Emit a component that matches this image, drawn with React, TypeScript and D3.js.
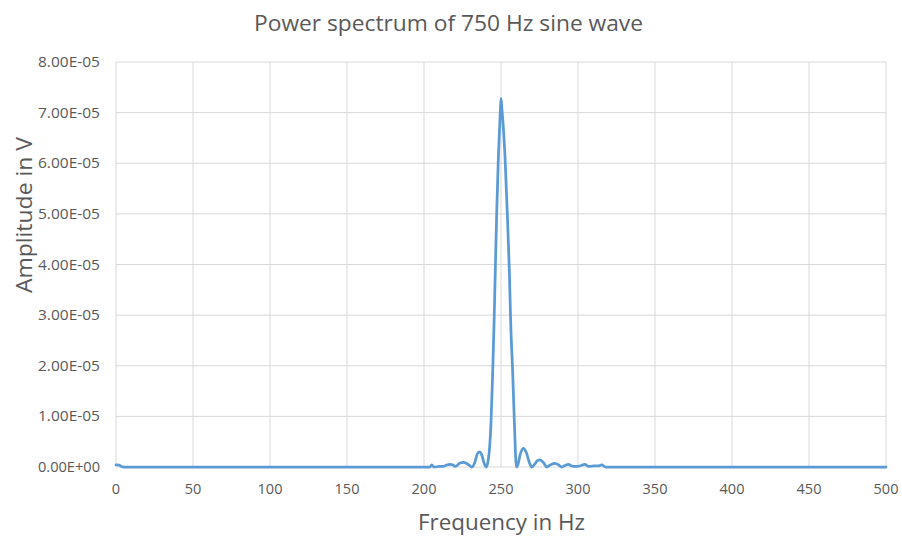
import React from "react";
import * as d3 from "d3";

// Frequency (Hz) and amplitude (V)
const freq = [
  0, 2, 3.5, 5, 200, 204, 205, 206.5, 210, 212.5, 214.7, 217, 219, 220, 221.5, 223.4, 225.5,
  227.7, 229.5, 231, 233.1, 234.5, 236, 237.5, 239, 240.3, 241.5, 243.5, 244.6, 245.5, 246.3,
  247.2, 248.3, 249.5, 250.0, 250.5, 251.3, 252.6, 254.1, 255.4, 256.3, 257.6, 258.7, 260.0,
  261, 262.5, 264.5, 266.5, 268.5, 270, 272, 273.5, 275.3, 277.5, 279.7, 282, 285, 287.5,
  289.4, 291.5, 293.7, 296, 298, 301, 304.5, 307, 310, 313, 315.4, 318, 500,
];
const amplitude = [
  0.04e-5, 0.035e-5, 0.01e-5, 0, 0, 0, 0.04e-5, 0, 0.01e-5, 0.01e-5, 0.04e-5, 0.05e-5,
  0.04e-5, 0.01e-5, 0.03e-5, 0.08e-5, 0.09e-5, 0.07e-5, 0.03e-5, 0, 0.1e-5, 0.25e-5, 0.3e-5,
  0.24e-5, 0.08e-5, 0, 0.1e-5, 0.87e-5, 1.86e-5, 2.85e-5, 3.89e-5, 5.0e-5, 6.13e-5, 7.0e-5,
  7.28e-5, 7.1e-5, 6.8e-5, 6.13e-5, 5.0e-5, 3.89e-5, 2.85e-5, 1.86e-5, 0.87e-5, 0,
  0.05e-5, 0.25e-5, 0.37e-5, 0.28e-5, 0.08e-5, 0, 0.06e-5, 0.12e-5, 0.14e-5, 0.09e-5, 0,
  0.04e-5, 0.07e-5, 0.04e-5, 0, 0.03e-5, 0.05e-5, 0.02e-5, 0.01e-5, 0.02e-5, 0.05e-5,
  0.01e-5, 0.02e-5, 0.02e-5, 0.04e-5, 0, 0,
];
const xTicks = [0, 50, 100, 150, 200, 250, 300, 350, 400, 450, 500];
const yTicks = [0, 1e-5, 2e-5, 3e-5, 4e-5, 5e-5, 6e-5, 7e-5, 8e-5];

const title = "Power spectrum of 750 Hz sine wave";
const xTitle = "Frequency in Hz";
const yTitle = "Amplitude in V";

const W = 902;
const H = 538;
const FONT = "'Open Sans', sans-serif";
const TEXT = "#595959";

function fmtY(v: number) {
  if (v === 0) return "0.00E+00";
  const e = Math.floor(Math.log10(v) + 1e-9);
  const m = v / Math.pow(10, e);
  const sign = e < 0 ? "-" : "+";
  return `${m.toFixed(2)}E${sign}${String(Math.abs(e)).padStart(2, "0")}`;
}

export default function App() {
  const x = d3.scaleLinear().domain([0, 500]).range([116, 886]);
  const y = d3.scaleLinear().domain([0, 8e-5]).range([467, 62]);
  const pts: [number, number][] = freq.map((f, i) => [f, amplitude[i]]);
  const line = d3
    .line<[number, number]>()
    .x((d) => x(d[0]))
    .y((d) => y(d[1]))
    .curve(d3.curveMonotoneX);

  return (
    <svg
      width={W}
      height={H}
      style={{ position: "absolute", left: 0, top: 0, background: "#fff" }}
    >
      <rect x={0} y={0} width={W} height={H} fill="#fff" />
      {/* grid */}
      {yTicks.map((t) => (
        <line key={"gy" + t} x1={x(0)} x2={x(500)} y1={y(t)} y2={y(t)} stroke="#D9D9D9" strokeWidth={1} />
      ))}
      {xTicks.map((t) => (
        <line key={"gx" + t} x1={x(t)} x2={x(t)} y1={y(8e-5)} y2={y(0)} stroke="#D9D9D9" strokeWidth={1} />
      ))}
      {/* series */}
      <path d={line(pts) || ""} fill="none" stroke="#5B9BD5" strokeWidth={2.75} strokeLinejoin="round" strokeLinecap="round" />
      {/* y tick labels */}
      {yTicks.map((t) => (
        <text
          key={"ly" + t}
          x={100}
          y={y(t)}
          dy="0.36em"
          textAnchor="end"
          fontFamily={FONT}
          fontSize={14}
          fill={TEXT}
          textLength={62}
          lengthAdjust="spacingAndGlyphs"
        >
          {fmtY(t)}
        </text>
      ))}
      {/* x tick labels */}
      {xTicks.map((t) => (
        <text key={"lx" + t} x={x(t)} y={494} textAnchor="middle" fontFamily={FONT} fontSize={14.5} fill={TEXT}>
          {t}
        </text>
      ))}
      {/* titles */}
      <text x={448.5} y={31} textAnchor="middle" fontFamily={FONT} fontSize={21} fill={TEXT} textLength={389} lengthAdjust="spacingAndGlyphs">
        {title}
      </text>
      <text x={501.5} y={530} textAnchor="middle" fontFamily={FONT} fontSize={21} fill={TEXT} textLength={167} lengthAdjust="spacingAndGlyphs">
        {xTitle}
      </text>
      <text
        transform={`translate(32,215) rotate(-90)`}
        textAnchor="middle"
        fontFamily={FONT}
        fontSize={21}
        fill={TEXT}
        textLength={156}
        lengthAdjust="spacingAndGlyphs"
      >
        {yTitle}
      </text>
    </svg>
  );
}
